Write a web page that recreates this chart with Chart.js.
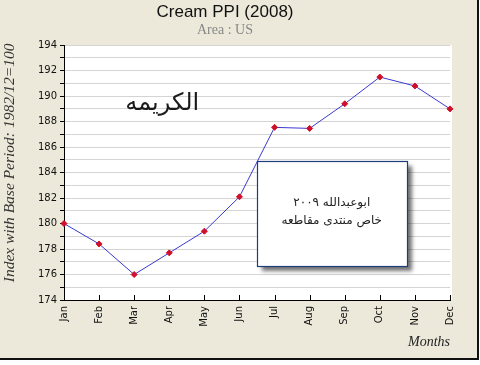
<!DOCTYPE html>
<html><head><meta charset="utf-8">
<script src="https://cdn.jsdelivr.net/npm/chart.js@4/dist/chart.umd.min.js"></script>
<style>html,body{margin:0;padding:0;background:#fff}#wrap{width:480px;height:365px;position:relative}</style>
</head><body><div id="wrap"><canvas id="c" width="480" height="365"></canvas></div>
<script>
// ---- data ----
const months = ['Jan','Feb','Mar','Apr','May','Jun','Jul','Aug','Sep','Oct','Nov','Dec'];
const creamPPI = [180.0, 178.4, 176.0, 177.7, 179.4, 182.1, 187.55, 187.47, 189.4, 191.5, 190.8, 189.0];
const yMin = 174, yMax = 194, yStep = 1, yLabelStep = 2;
const titleText = 'Cream PPI (2008)';
const subtitleText = 'Area : US';
const yTitleText = 'Index with Base Period: 1982/12=100';
const xTitleText = 'Months';
const noteBig = 'الكريمه';
const noteBoxLines = ['ابوعبدالله ٢٠٠٩', 'خاص منتدى مقاطعه'];

// annotation anchors (in data coordinates: category index, value)
const noteBigAt = [2.8, 189.4];
const noteBoxRect = [5.5, 184.9, 9.77, 176.67];
const noteBoxTextAt = [7.63, 181.6, 180.2];

Chart.defaults.font.family = '"DejaVu Sans", sans-serif';

const bgPlugin = {
  id: 'bg',
  beforeDraw(chart) {
    const {ctx, chartArea: a} = chart;
    ctx.save();
    ctx.fillStyle = '#ffffff';
    ctx.fillRect(0, 0, chart.width, chart.height);
    ctx.fillStyle = '#ECE9DA';
    ctx.fillRect(0, 0, 477, 358);
    ctx.fillStyle = '#111';
    ctx.fillRect(477, 0, 2, 360);
    ctx.fillRect(0, 358, 479, 2);
    ctx.fillStyle = '#ffffff';
    ctx.fillRect(a.left, a.top, a.right - a.left + 2, a.bottom - a.top);
    ctx.restore();
  },
  afterDraw(chart) {
    const {ctx, chartArea: a, scales: {x, y}} = chart;
    ctx.save();
    // inward tick marks on x axis
    ctx.strokeStyle = '#000';
    ctx.lineWidth = 1;
    ctx.beginPath();
    months.forEach((m, i) => {
      const px = Math.round(x.getPixelForValue(i)) + 0.5;
      ctx.moveTo(px, a.bottom);
      ctx.lineTo(px, a.bottom - 5);
    });
    ctx.stroke();

    // big Arabic note
    ctx.font = '24px "DejaVu Sans"';
    ctx.fillStyle = '#1a1a1a';
    ctx.textAlign = 'center';
    ctx.textBaseline = 'middle';
    ctx.direction = 'rtl';
    ctx.fillText(noteBig, x.getPixelForValue(noteBigAt[0]), y.getPixelForValue(noteBigAt[1]));

    // text box
    const bl = Math.round(x.getPixelForValue(noteBoxRect[0])) + 0.5;
    const bt = Math.round(y.getPixelForValue(noteBoxRect[1])) + 0.5;
    const br = Math.round(x.getPixelForValue(noteBoxRect[2])) + 0.5;
    const bb = Math.round(y.getPixelForValue(noteBoxRect[3])) + 0.5;
    ctx.shadowColor = 'rgba(0,0,0,0.55)';
    ctx.shadowBlur = 4;
    ctx.shadowOffsetX = 4;
    ctx.shadowOffsetY = 4;
    ctx.fillStyle = '#ffffff';
    ctx.fillRect(bl, bt, br - bl, bb - bt);
    ctx.shadowColor = 'transparent';
    ctx.strokeStyle = '#1f3d7a';
    ctx.lineWidth = 1.2;
    ctx.strokeRect(bl, bt, br - bl, bb - bt);
    ctx.font = '12px "DejaVu Sans"';
    ctx.fillStyle = '#222';
    const tx = x.getPixelForValue(noteBoxTextAt[0]);
    ctx.fillText(noteBoxLines[0], tx, y.getPixelForValue(noteBoxTextAt[1]));
    ctx.fillText(noteBoxLines[1], tx, y.getPixelForValue(noteBoxTextAt[2]));
    ctx.restore();
  }
};

new Chart(document.getElementById('c'), {
  type: 'line',
  data: {
    labels: months,
    datasets: [{
      data: creamPPI,
      borderColor: '#3a3ad0',
      borderWidth: 1,
      tension: 0,
      fill: false,
      pointStyle: 'rectRot',
      pointRadius: 3,
      pointBackgroundColor: '#d0102a',
      pointBorderColor: '#d0102a',
      pointBorderWidth: 1
    }]
  },
  options: {
    responsive: false,
    animation: false,
    devicePixelRatio: 1,
    layout: {padding: {left: 0, right: 30, top: 0, bottom: 0}},
    plugins: {
      legend: {display: false},
      tooltip: {enabled: false},
      title: {
        display: true, text: titleText, color: '#111',
        font: {family: '"Liberation Sans", Arial, sans-serif', size: 17, weight: 'normal'},
        padding: {top: 2, bottom: 0}
      },
      subtitle: {
        display: true, text: subtitleText, color: '#888',
        font: {family: '"Liberation Serif", serif', size: 14, weight: 'normal'},
        padding: {top: 0, bottom: 6}
      }
    },
    scales: {
      x: {
        type: 'category',
        offset: false,
        afterFit(s) { s.height = 65; },
        grid: {display: false, drawOnChartArea: false, drawTicks: false},
        border: {display: true, color: '#000', width: 1},
        ticks: {minRotation: 90, maxRotation: 90, autoSkip: false, padding: 6, color: '#111', font: {size: 10}},
        title: {
          display: true, text: xTitleText, align: 'end', color: '#222',
          font: {family: '"Liberation Serif", serif', style: 'italic', size: 14},
          padding: {top: 0, bottom: 14}
        }
      },
      y: {
        min: yMin, max: yMax,
        afterFit(s) { s.width = 64; },
        grid: {color: '#d4d4d4', tickColor: '#000', tickLength: 4, drawTicks: true},
        border: {display: true, color: '#000', width: 1},
        ticks: {
          stepSize: yStep, autoSkip: false, padding: 3, color: '#111', font: {size: 10},
          callback: (v) => (v % yLabelStep === 0 ? String(v) : '')
        },
        title: {
          display: true, text: '     ' + yTitleText, color: '#333',
          font: {family: '"Liberation Serif", serif', style: 'italic', size: 15.5},
          padding: {top: 1, bottom: 0}
        }
      }
    }
  },
  plugins: [bgPlugin]
});
</script>
</body></html>
